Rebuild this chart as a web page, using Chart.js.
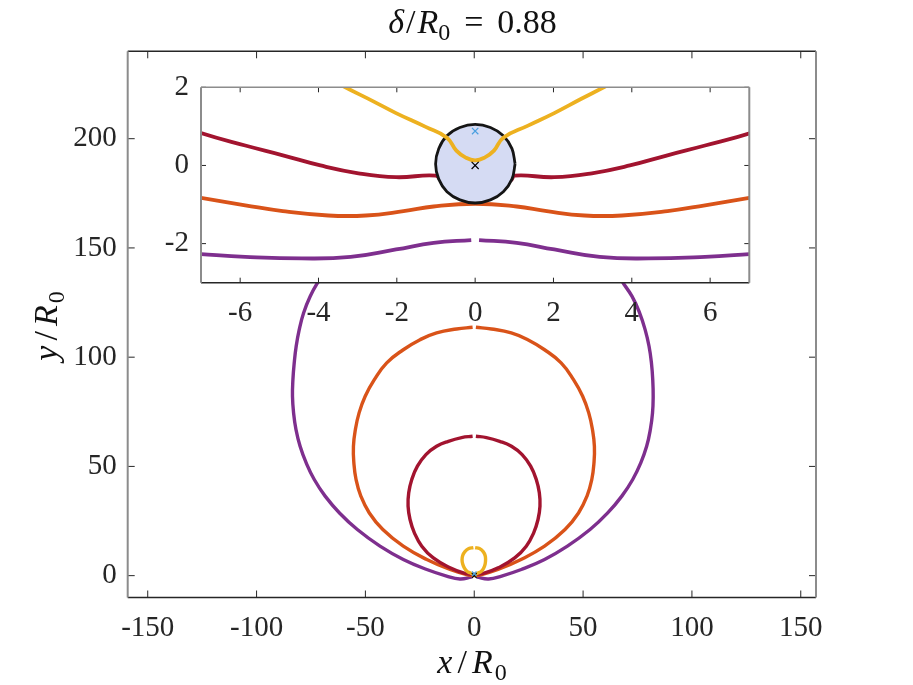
<!DOCTYPE html>
<html>
<head>
<meta charset="utf-8">
<script src="https://cdn.jsdelivr.net/npm/chart.js@4.4.1/dist/chart.umd.min.js"></script>
<style>
  html, body { margin: 0; padding: 0; background: #fff; }
  #wrap { position: relative; width: 913px; height: 685px; }
  #wrap canvas { position: absolute; left: 0; top: 0; }
</style>
</head>
<body>
<div id="wrap">
  <canvas id="mainChart" width="913" height="685"></canvas>
  <canvas id="insetChart" width="913" height="685"></canvas>
</div>
<script>
// ---- main axes (x/R0, y/R0) ----
// purple: from the small gap at the bottom, round the left, over the (hidden) top, down the right
const purpleX = [-1.2, -6.6, -12.7, -21.8, -32.6, -43.3, -53.7, -61.9, -68.5, -73.5, -77.2, -80.0, -81.9, -83.0, -83.5,
                 -83.3, -82.7, -81.8, -80.4, -78.4, -75.4, -71.1, -64, -54, -40, -22, 0,
                 22, 38, 52, 62, 67.5, 72.5, 76, 78.5, 80.3, 81.4, 82.0, 82.2, 81.9, 80.9, 79.2, 76.5, 72.8,
                 67.8, 61.3, 53.2, 42.8, 32.3, 21.6, 12.6, 6.6, 1.2];
const purpleY = [-0.7, -1.5, -0.2, 2.8, 7.4, 13.5, 21.1, 28.7, 36.4, 44.0, 51.6, 59.2, 66.9, 74.5, 82.1,
                 89.7, 97.4, 105.0, 112.6, 120.2, 127.8, 135.5, 147, 158, 167, 173, 175,
                 173, 167, 158, 147, 135.5, 127.8, 120.2, 112.6, 105.0, 97.4, 89.7, 82.1, 74.5, 66.9, 59.2, 51.6, 44.0,
                 36.4, 28.7, 21.1, 13.5, 7.4, 2.8, -0.2, -1.5, -0.7];

// orange: from the gap at the top, down the left, through the bottom, up the right
const orangeX = [-0.75, -8.1, -17.3, -24.9, -32.6, -40.2, -45.9, -50.1, -52.9, -54.6, -55.5, -55.3, -54.3, -52.1,
                 -48.2, -42.0, -32.6, -21.8, -11.1, -3.5, 0,
                 3.4, 10.9, 21.5, 32.3, 41.7, 47.9, 51.8, 54.0, 55.0, 55.2, 54.3, 52.6, 49.8, 45.6, 39.9, 32.3,
                 24.6, 17.0, 7.9, 0.75];
const orangeY = [113.7, 112.9, 111.1, 108.0, 103.4, 97.4, 89.7, 82.1, 74.5, 66.9, 59.2, 51.6, 44.0, 36.4,
                 28.7, 21.1, 13.5, 7.4, 2.8, 0.5, 0.1,
                 0.5, 2.8, 7.4, 13.5, 21.1, 28.7, 36.4, 44.0, 51.6, 59.2, 66.9, 74.5, 82.1, 89.7, 97.4, 103.4,
                 108.0, 111.1, 112.9, 113.7];

const redX = [-0.75, -5.8, -11.9, -17.3, -22.2, -26.1, -28.7, -30.1, -30.4, -29.5, -27.5, -24.1, -18.8, -11.1, -4.3, 0,
              4.2, 11.0, 18.6, 23.9, 27.3, 29.3, 30.2, 29.9, 28.5, 25.9, 22.0, 17.1, 11.7, 5.6, 0.75];
const redY = [63.8, 63.2, 61.5, 59.2, 55.4, 50.1, 44.0, 37.9, 31.8, 25.7, 19.6, 13.5, 8.1, 3.6, 1.0, 0.5,
              1.0, 3.6, 8.1, 13.5, 19.6, 25.7, 31.8, 37.9, 44.0, 50.1, 55.4, 59.2, 61.5, 63.2, 63.8];

const yellowX = [-0.4, -2.5, -4.3, -5.3, -5.6, -5.3, -4.5, -3.35, -2, -0.7, 0,
                 0.7, 2, 3.3, 4.3, 5.0, 5.2, 5.0, 4.1, 2.4, 0.4];
const yellowY = [12.8, 12.4, 11.0, 9.2, 7.3, 5.3, 3.4, 2.0, 1.3, 0.7, 0.13,
                 0.7, 1.3, 2.0, 3.4, 5.3, 7.3, 9.2, 11.0, 12.4, 12.8];

const markX = [0, 0];           // black x, blue x
const markY = [0, 0.88];

const mainXRange = [-159.2, 157];
const mainYRange = [-10, 240];
const mainXTickVals = [-150, -100, -50, 0, 50, 100, 150];
const mainYTickVals = [0, 50, 100, 150, 200];

// ---- inset (zoom near the origin) ----
const inPurpleX = [-7.4, -7, -5.87, -4.43, -3.18, -2.02, -1.06, -0.1];
const inPurpleY = [-2.24, -2.27, -2.34, -2.38, -2.34, -2.15, -1.98, -1.91];
const inPurpleX2 = [0.1, 1.06, 2.02, 3.18, 4.43, 5.87, 7, 7.4];
const inPurpleY2 = [-1.91, -1.98, -2.15, -2.34, -2.38, -2.34, -2.27, -2.24];

const inOrangeX = [-7.4, -7, -5.87, -4.91, -3.75, -2.79, -1.83, -1.06, 0, 1.06, 1.83, 2.79, 3.75, 4.91, 5.87, 7, 7.4];
const inOrangeY = [-0.77, -0.83, -1.02, -1.17, -1.28, -1.28, -1.17, -1.05, -0.98, -1.05, -1.17, -1.28, -1.28, -1.17, -1.02, -0.83, -0.77];

const inRedX = [-7.4, -7, -5.87, -4.91, -3.95, -2.98, -2.02, -1.01, -0.87, -0.48, 0, 0.48, 0.91, 1.01, 2.02, 2.98, 3.95, 4.91, 5.87, 7.03, 7.4];
const inRedY = [1.0, 0.83, 0.51, 0.26, 0.0, -0.2, -0.3, -0.26, -0.38, -0.54, -0.6, -0.54, -0.38, -0.26, -0.3, -0.2, 0.0, 0.26, 0.51, 0.83, 1.0];

const inYellowX = [-3.5, -3.35, -2.6, -2.02, -1.25, -0.72, -0.48, -0.24, 0, 0.24, 0.48, 0.72, 1.35, 2.02, 2.7, 3.32, 3.5];
const inYellowY = [2.12, 2.02, 1.64, 1.34, 0.98, 0.71, 0.38, 0.2, 0.13, 0.2, 0.38, 0.71, 1.02, 1.34, 1.7, 2.02, 2.12];

const circleX = [1.02, 0.94, 0.72, 0.39, 0, -0.39, -0.72, -0.93, -1.01, -0.93, -0.72, -0.39, 0, 0.39, 0.72, 0.94, 1.02];
const circleY = [0.04, 0.43, 0.76, 0.97, 1.05, 0.97, 0.76, 0.43, 0.04, -0.35, -0.67, -0.88, -0.96, -0.88, -0.67, -0.35, 0.04];

const insetXRange = [-7, 7];
const insetYRange = [-3, 2];
const insetXTickVals = [-6, -4, -2, 0, 2, 4, 6];
const insetYTickVals = [-2, 0, 2];

// text runs: i = italic, n = upright, s = subscript, g = gap
const titleRuns = [['δ', 'i'], ['', 'g', 2], ['/', 'n'], ['', 'g', 2], ['R', 'i'], ['0', 's'], ['', 'g', 14], ['=', 'n'], ['', 'g', 14], ['0.88', 'n']];
const xLabelRuns = [['x', 'i'], ['', 'g', 5], ['/', 'n'], ['', 'g', 5], ['R', 'i'], ['', 'g', 2], ['0', 's']];
const yLabelRuns = [['y', 'i'], ['', 'g', 5], ['/', 'n'], ['', 'g', 5], ['R', 'i'], ['', 'g', 2], ['0', 's']];

const PURPLE = '#7E2F8E', ORANGE = '#D95319', RED = '#A2142F', YELLOW = '#EDB120';
const FONT = 'Liberation Serif';
const INK = '#262626';

function pts(xs, ys) {
    return xs.map((x, i) => ({ x: x, y: ys[i] }));
}

function curve(xs, ys, color, order, width) {
    return {
        data: pts(xs, ys),
        showLine: true,
        borderColor: color,
        borderWidth: width,
        pointRadius: 0,
        tension: 0.45,
        fill: false,
        order: order,
        clip: 0
    };
}

function marks(size) {
    return {
        data: pts(markX, markY),
        showLine: false,
        pointStyle: 'crossRot',
        pointRadius: [size, size * 0.9],
        borderColor: ['#000000', '#4a9fe0'],
        borderWidth: 1.2,
        order: 0
    };
}

// white plot area, frame and inward ticks
const boxPlugin = {
    id: 'box',
    beforeDraw(chart, args, opts) {
        if (!opts.fill) return;
        const a = chart.chartArea, ctx = chart.ctx;
        ctx.save();
        ctx.fillStyle = opts.fill;
        ctx.fillRect(a.left, a.top, a.right - a.left, a.bottom - a.top);
        ctx.restore();
    },
    afterDraw(chart, args, opts) {
        const a = chart.chartArea, ctx = chart.ctx;
        const xs = chart.scales.x, ys = chart.scales.y, L = opts.tick;
        ctx.save();
        ctx.strokeStyle = INK;
        ctx.lineWidth = 1;
        ctx.beginPath();
        xs.ticks.forEach(t => {
            const p = xs.getPixelForValue(t.value);
            ctx.moveTo(p, a.bottom); ctx.lineTo(p, a.bottom - L);
            ctx.moveTo(p, a.top); ctx.lineTo(p, a.top + L);
        });
        ys.ticks.forEach(t => {
            const p = ys.getPixelForValue(t.value);
            ctx.moveTo(a.left, p); ctx.lineTo(a.left + L, p);
            ctx.moveTo(a.right, p); ctx.lineTo(a.right - L, p);
        });
        ctx.stroke();
        ctx.lineWidth = 1.4;
        ctx.strokeStyle = opts.topColor;
        ctx.beginPath(); ctx.moveTo(a.left, a.top); ctx.lineTo(a.right, a.top); ctx.stroke();
        ctx.strokeStyle = INK;
        ctx.beginPath(); ctx.moveTo(a.left, a.bottom); ctx.lineTo(a.right, a.bottom); ctx.stroke();
        ctx.lineWidth = 2;
        ctx.strokeStyle = '#8c8c8c';
        ctx.beginPath();
        ctx.moveTo(a.left, a.top); ctx.lineTo(a.left, a.bottom);
        ctx.moveTo(a.right, a.top); ctx.lineTo(a.right, a.bottom);
        ctx.stroke();
        ctx.restore();
    }
};

function runFont(kind, size) {
    const s = kind === 's' ? Math.round(size * 0.7) : size;
    return (kind === 'i' ? 'italic ' : '') + s + 'px "' + FONT + '"';
}

function runWidth(ctx, r, size) {
    if (r[1] === 'g') return r[2];
    ctx.font = runFont(r[1], size);
    return ctx.measureText(r[0]).width;
}

function drawRuns(ctx, runs, cx, base, size) {
    let w = 0;
    runs.forEach(r => { w += runWidth(ctx, r, size); });
    let x = cx - w / 2;
    runs.forEach(r => {
        const rw = runWidth(ctx, r, size);
        if (r[1] !== 'g') {
            ctx.font = runFont(r[1], size);
            ctx.fillText(r[0], x, base + (r[1] === 's' ? size * 0.22 : 0));
        }
        x += rw;
    });
}

// title and axis labels with italic math parts
const mathPlugin = {
    id: 'mathText',
    afterDraw(chart) {
        const ctx = chart.ctx;
        ctx.save();
        ctx.fillStyle = '#111';
        ctx.textBaseline = 'alphabetic';
        ctx.textAlign = 'left';
        drawRuns(ctx, titleRuns, 472.5, 33, 34);
        drawRuns(ctx, xLabelRuns, 472, 673, 34);
        ctx.translate(57, 326);
        ctx.rotate(-Math.PI / 2);
        drawRuns(ctx, yLabelRuns, 0, 0, 34);
        ctx.restore();
    }
};

function axis(range, tickVals, pad, fit) {
    return {
        type: 'linear',
        min: range[0],
        max: range[1],
        border: { display: false },
        grid: { display: false, drawTicks: false },
        afterBuildTicks: s => { s.ticks = tickVals.map(v => ({ value: v })); },
        ticks: {
            autoSkip: false,
            maxRotation: 0,
            padding: pad,
            color: INK,
            font: { family: FONT, size: 29 },
            callback: v => String(v)
        },
        afterFit: fit
    };
}

new Chart(document.getElementById('mainChart'), {
    type: 'scatter',
    data: {
        datasets: [
            marks(3.5),
            curve(yellowX, yellowY, YELLOW, 1, 3.4),
            curve(redX, redY, RED, 2, 3.4),
            curve(orangeX, orangeY, ORANGE, 3, 3.4),
            curve(purpleX, purpleY, PURPLE, 4, 3.4)
        ]
    },
    options: {
        responsive: false,
        animation: false,
        events: [],
        layout: { padding: { left: 0, top: 51.3, right: 97, bottom: 0 } },
        plugins: {
            legend: { display: false },
            tooltip: { enabled: false },
            box: { tick: 7, topColor: INK }
        },
        scales: {
            x: axis(mainXRange, mainXTickVals, 13, s => { s.height = 87.5; }),
            y: axis(mainYRange, mainYTickVals, 11, s => { s.width = 127.7; })
        }
    },
    plugins: [boxPlugin, mathPlugin]
});

const insetRed = curve(inRedX, inRedY, RED, 3, 3.8);
insetRed.segment = {
    borderColor: c => (Math.abs(c.p0.parsed.x) < 0.95 && Math.abs(c.p1.parsed.x) < 0.95) ? 'rgba(170, 30, 70, 0.75)' : undefined
};

new Chart(document.getElementById('insetChart'), {
    type: 'scatter',
    data: {
        datasets: [
            marks(5),
            curve(inYellowX, inYellowY, YELLOW, 1, 3.8),
            {
                data: pts(circleX, circleY),
                showLine: true,
                borderColor: '#151515',
                borderWidth: 2.8,
                backgroundColor: '#d5dbf3',
                fill: 'shape',
                pointRadius: 0,
                tension: 0.4,
                order: 2
            },
            insetRed,
            curve(inOrangeX, inOrangeY, ORANGE, 4, 3.8),
            curve(inPurpleX, inPurpleY, PURPLE, 5, 3.8),
            curve(inPurpleX2, inPurpleY2, PURPLE, 5, 3.8)
        ]
    },
    options: {
        responsive: false,
        animation: false,
        events: [],
        layout: { padding: { left: 0, top: 87.3, right: 163.7, bottom: 0 } },
        plugins: {
            legend: { display: false },
            tooltip: { enabled: false },
            box: { tick: 5, fill: '#ffffff', topColor: '#8c8c8c' }
        },
        scales: {
            x: axis(insetXRange, insetXTickVals, 13, s => { s.height = 402.3; }),
            y: axis(insetYRange, insetYTickVals, 12, s => { s.width = 201; })
        }
    },
    plugins: [boxPlugin]
});
</script>
</body>
</html>
